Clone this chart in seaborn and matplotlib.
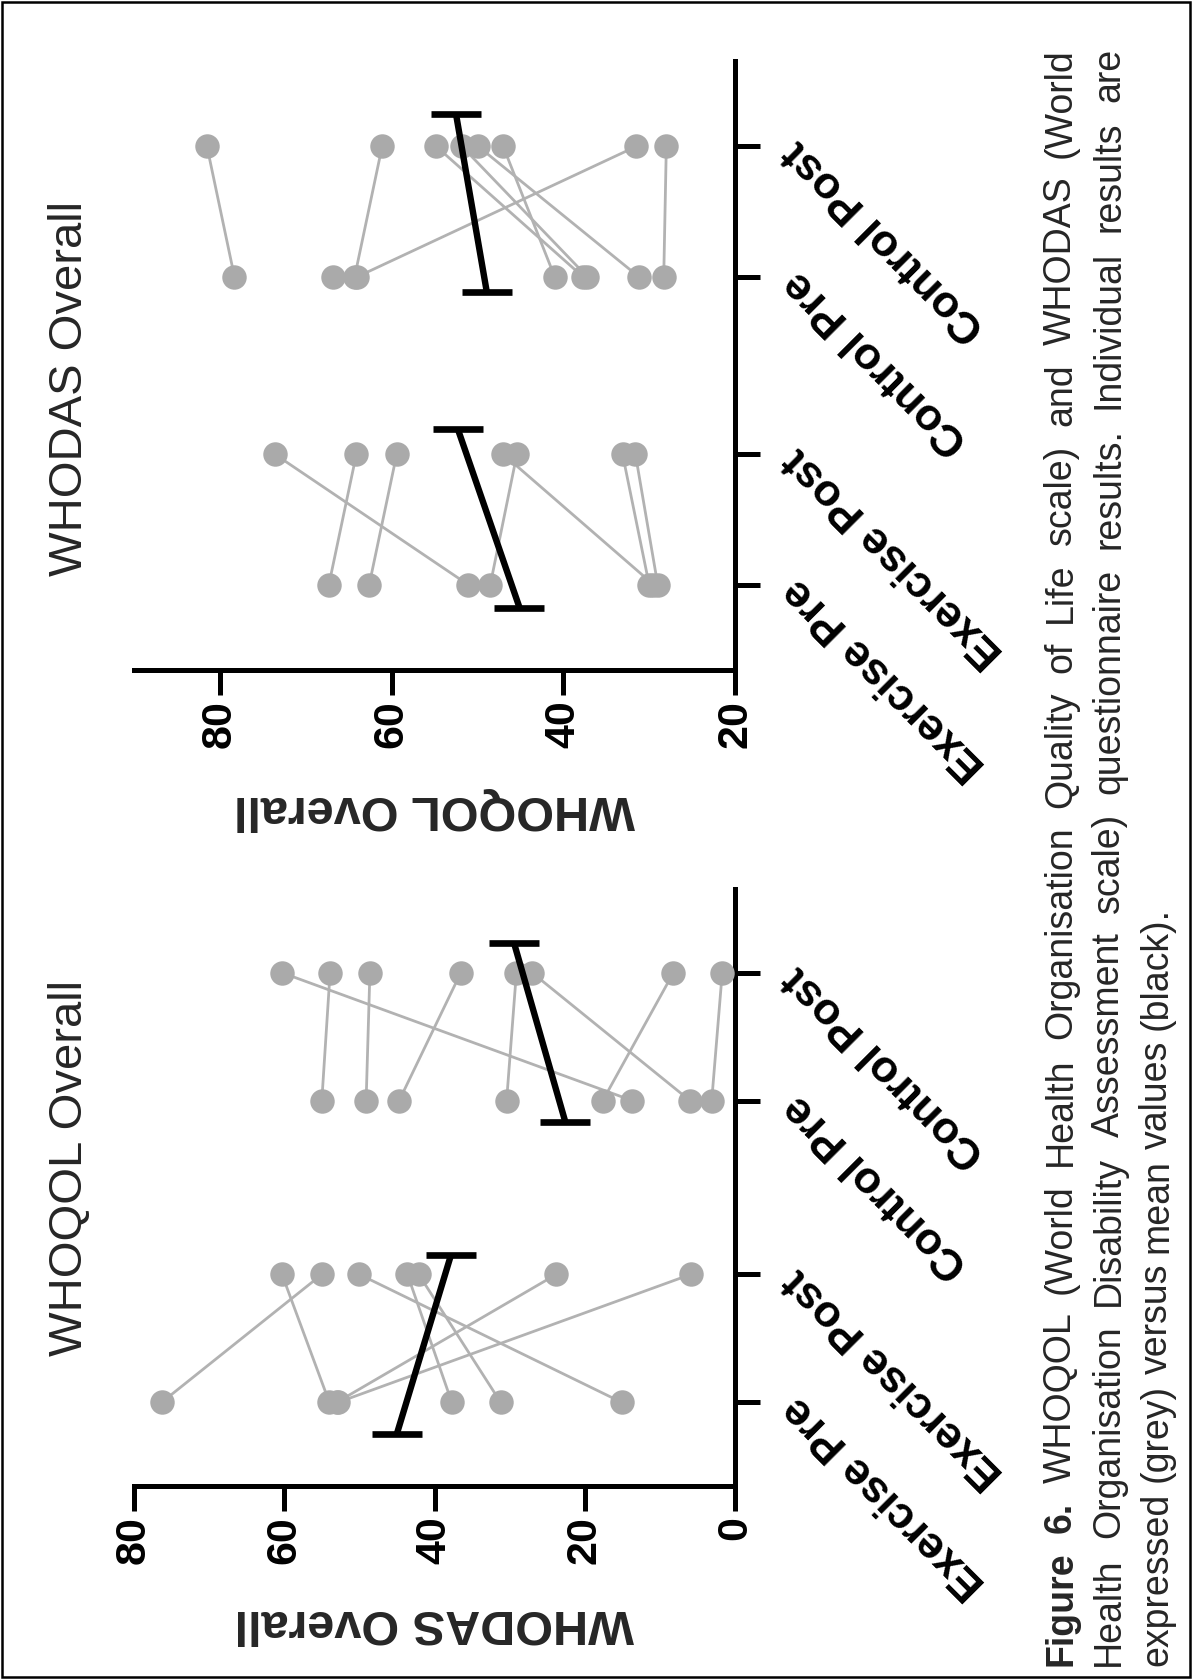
import numpy as np
import pandas as pd
import matplotlib
matplotlib.use("Agg")
import matplotlib.pyplot as plt
import seaborn as sns
from matplotlib.patches import Rectangle

# ---------------- data ----------------
categories = ["Exercise Pre", "Exercise Post", "Control Pre", "Control Post"]
groups = ["Exercise", "Control"]

# lower panel (title "WHOQOL Overall", axis label "WHODAS Overall", 0-80)
low_title = "WHOQOL Overall"
low_ylabel = "WHODAS Overall"
low_ticks = [0, 20, 40, 60, 80]
low_ex_pre = [76.3, 54.0, 53.0, 52.8, 37.7, 31.2, 15.1]
low_ex_post = [55.0, 60.3, 23.8, 5.9, 43.6, 42.1, 50.0]
low_ct_pre = [55.0, 49.1, 44.7, 30.4, 6.0, 17.6, 13.7, 3.1]
low_ct_post = [53.9, 48.6, 36.5, 29.1, 27.0, 8.2, 60.3, 1.7]
low_mean_pre = [45.0, 22.6]
low_mean_post = [37.8, 29.4]

# upper panel (title "WHODAS Overall", axis label "WHOQOL Overall", 20-90)
up_title = "WHODAS Overall"
up_ylabel = "WHOQOL Overall"
up_ticks = [20, 40, 60, 80]
up_ex_pre = [51.1, 67.3, 62.6, 48.5, 29.5, 30.0, 29.0]
up_ex_post = [73.6, 64.1, 59.4, 45.4, 47.0, 33.1, 31.6]
up_ct_pre = [78.3, 64.3, 64.0, 37.7, 37.2, 31.2, 41.0, 28.3, 66.8]
up_ct_post = [81.5, 61.1, 31.5, 54.8, 51.8, 49.9, 47.0, 28.0, np.nan]
up_mean_pre = [45.1, 48.9]
up_mean_post = [52.3, 52.5]

caption_lines = [
    [("Figure", True), ("6.", True), ("WHOQOL", False), ("(World", False), ("Health", False),
     ("Organisation", False), ("Quality", False), ("of", False), ("Life", False), ("scale)", False),
     ("and", False), ("WHODAS", False), ("(World", False)],
    [("Health", False), ("Organisation", False), ("Disability", False), ("Assessment", False),
     ("scale)", False), ("questionnaire", False), ("results.", False), ("Individual", False),
     ("results", False), ("are", False)],
    [("expressed", False), ("(grey)", False), ("versus", False), ("mean", False),
     ("values", False), ("(black).", False)],
]

# ---------------- layout constants ----------------
W, H = 1192, 1679
cat_pos = [0.0, 1.0, 2.36, 3.36]
GREY_DOT = "#aaaaaa"
GREY_LINE = "#b2b2b2"


def long_frame(ex_pre, ex_post, ct_pre, ct_post):
    rows = []
    for g, (pre, post) in enumerate([(ex_pre, ex_post), (ct_pre, ct_post)]):
        for i, (a, b) in enumerate(zip(pre, post)):
            sid = f"{groups[g]}_{i}"
            rows.append(dict(subject=sid, pos=cat_pos[2 * g], value=a))
            rows.append(dict(subject=sid, pos=cat_pos[2 * g + 1], value=b))
    return pd.DataFrame(rows)


sns.set_style("ticks")
plt.rcParams["font.family"] = ["Liberation Sans", "DejaVu Sans"]

fig = plt.figure(figsize=(W / 100, H / 100), dpi=100)

ax_left, ax_right = 134, 735
panels = [
    dict(top=61, bottom=670, xlim=(90, 20), ticks=up_ticks, title=up_title, ylabel=up_ylabel,
         data=(up_ex_pre, up_ex_post, up_ct_pre, up_ct_post),
         mpre=up_mean_pre, mpost=up_mean_post,
         offs=[(0.176, 0.196), (0.12, 0.25)], title_y=388, label_y=809),
    dict(top=889, bottom=1486, xlim=(80, 0), ticks=low_ticks, title=low_title, ylabel=low_ylabel,
         data=(low_ex_pre, low_ex_post, low_ct_pre, low_ct_post),
         mpre=low_mean_pre, mpost=low_mean_post,
         offs=[(0.245, 0.153), (0.164, 0.23)], title_y=1168, label_y=1623),
]

for p in panels:
    rect = [ax_left / W, 1 - p["bottom"] / H, (ax_right - ax_left) / W, (p["bottom"] - p["top"]) / H]
    ax = fig.add_axes(rect)
    df = long_frame(*p["data"])
    sns.lineplot(data=df, x="value", y="pos", units="subject", estimator=None, sort=False,
                 color=GREY_LINE, linewidth=2.0, ax=ax, zorder=2, legend=False)
    sns.scatterplot(data=df.dropna(), x="value", y="pos", color=GREY_DOT, s=310, linewidth=0,
                    ax=ax, zorder=3, legend=False)
    for g in range(2):
        o_pre, o_post = p["offs"][g]
        ax.plot([p["mpre"][g], p["mpost"][g]],
                [cat_pos[2 * g] - o_pre, cat_pos[2 * g + 1] + o_post],
                color="black", linewidth=4.6, marker="_", markersize=36, markeredgewidth=4.8,
                solid_capstyle="butt", zorder=4)
    ax.set_xlim(*p["xlim"])
    ax.set_ylim(-0.655, cat_pos[-1] + 0.655)
    for s in ["left", "top"]:
        ax.spines[s].set_visible(False)
    for s in ["bottom", "right"]:
        ax.spines[s].set_linewidth(3.6)
        ax.spines[s].set_color("black")
    ax.yaxis.tick_right()
    ax.tick_params(axis="both", direction="out", length=18, width=3.6, colors="black")
    ax.tick_params(axis="x", pad=4)
    ax.tick_params(axis="y", pad=22)
    ax.set_xticks(p["ticks"])
    ax.set_xticklabels([str(t) for t in p["ticks"]], rotation=90, fontsize=31, fontweight="bold")
    ax.set_yticks(cat_pos)
    ax.set_yticklabels(categories, rotation=135, rotation_mode="anchor", ha="right", va="center",
                       fontsize=32, fontweight="bold")
    ax.set_ylabel("")
    ax.set_xlabel(p["ylabel"], rotation=180, fontsize=35, fontweight="bold")
    ax.xaxis.set_label_coords(0.5, -(p["label_y"] - p["bottom"]) / (p["bottom"] - p["top"]))
    ax.xaxis.label.set_va("center")
    ax.patch.set_alpha(0)
    fig.text(70 / W, 1 - p["title_y"] / H, p["title"], rotation=90, ha="center", va="center",
             fontsize=34)

# ---------------- caption (justified, rotated) ----------------
renderer = fig.canvas.get_renderer()


def text_width(s, bold, fs):
    t = fig.text(0, 0, s, fontsize=fs, fontweight="bold" if bold else "normal")
    w = t.get_window_extent(renderer).width
    t.remove()
    return w


y_start, y_end = H - 1666, H - 48
avail = y_end - y_start
fs = 27.0
nat = max(sum(text_width(w, b, fs) for w, b in line) +
          (len(line) - 1) * (text_width("x x", False, fs) - text_width("xx", False, fs))
          for line in caption_lines[:2])
if nat > avail * 0.985:
    fs = fs * avail * 0.985 / nat
space = text_width("x x", False, fs) - text_width("xx", False, fs)
line_x = [1061, 1109, 1157]
for li, line in enumerate(caption_lines):
    widths = [text_width(w, b, fs) for w, b in line]
    if li < len(caption_lines) - 1:
        gap = (avail - sum(widths)) / (len(line) - 1)
    else:
        gap = space
    y = y_start
    for (word, bold), wdt in zip(line, widths):
        fig.text(line_x[li] / W, y / H, word, rotation=90, rotation_mode="anchor",
                 ha="left", va="center", fontsize=fs,
                 fontweight="bold" if bold else "normal")
        y += wdt + gap

fig.add_artist(Rectangle((2 / W, 2 / H), (W - 4) / W, (H - 4) / H, transform=fig.transFigure,
                         fill=False, edgecolor="black", linewidth=1.8))

fig.savefig("out.png", dpi=100)
